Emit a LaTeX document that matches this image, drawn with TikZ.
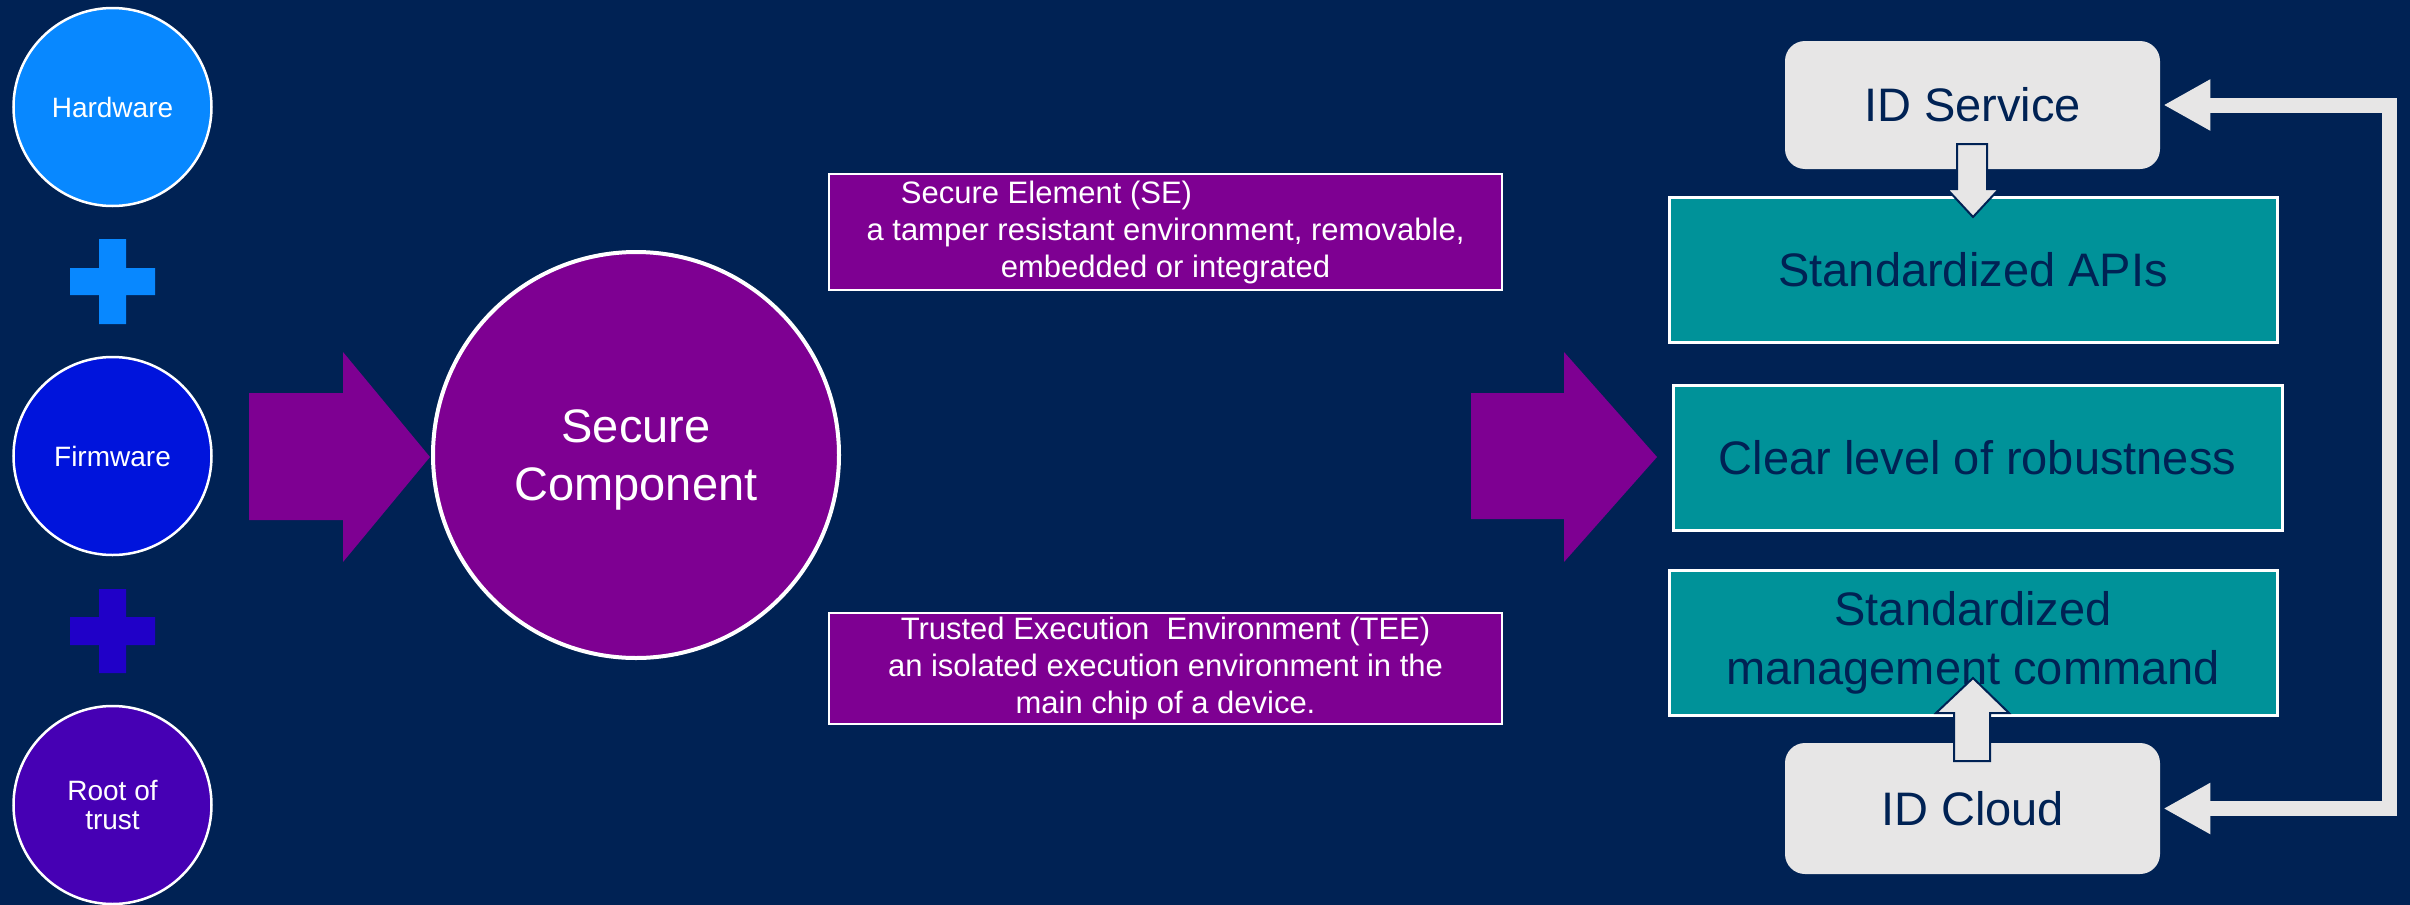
\documentclass[tikz,border=0pt]{standalone}
\usepackage{fontspec}
\setmainfont{Liberation Sans}
\usetikzlibrary{arrows.meta}
\definecolor{bg}{RGB}{0,34,84}
\definecolor{hwc}{RGB}{8,136,255}
\definecolor{fwc}{RGB}{0,20,220}
\definecolor{plustwo}{RGB}{32,0,200}
\definecolor{rotc}{RGB}{70,0,180}
\definecolor{purp}{RGB}{126,0,146}
\definecolor{tealc}{RGB}{0,146,153}
\definecolor{lgray}{RGB}{231,230,230}
\tikzset{
  circ/.style={circle, draw=white, line width=1.25pt, minimum size=99pt, inner sep=0pt,
    text=white, font=\fontsize{14}{14.5}\selectfont, align=center},
  desc/.style={rectangle, draw=white, line width=1pt, fill=purp, text=white, inner sep=0pt,
    minimum width=336.5pt, font=\fontsize{15.5}{18.5}\selectfont, align=center},
  tealbox/.style={rectangle, draw=white, line width=1.5pt, fill=tealc, text=bg,
    minimum width=304pt, minimum height=72.5pt, inner sep=0pt,
    font=\fontsize{23.5}{29.5}\selectfont, align=center},
  idbox/.style={rectangle, rounded corners=10pt, fill=lgray, text=bg, minimum width=187.5pt,
    inner sep=0pt, font=\fontsize{23.5}{29}\selectfont},
  blockarrow/.style={fill=purp},
  smallarrow/.style={fill=lgray, draw=bg, line width=1pt},
  loopconn/.style={draw=lgray, line width=7.5pt,
    arrows={Triangle[length=23.5pt,width=24pt]-Triangle[length=23.5pt,width=24pt]},
    shorten <=1.5pt, shorten >=1.5pt}
}
\begin{document}
\begin{tikzpicture}[x=0.5pt,y=-0.5pt]
\fill[bg] (0,0) rectangle (2410,905);
\useasboundingbox (0,0) rectangle (2410,905);

% left column
\node[circ, fill=hwc] (hw) at (112.5,107) {Hardware};
\node[circ, fill=fwc] (fw) at (112.5,456) {Firmware};
\node[circ, fill=rotc] (rot) at (112.5,805) {Root of\\trust};
\fill[hwc] (70,268) rectangle (155,295) (99,239) rectangle (126,324);
\fill[plustwo] (70,617) rectangle (155,645) (99,589) rectangle (126,673);

% block arrows
\fill[blockarrow] (249,393) -- (343,393) -- (343,352) -- (430,457) -- (343,562) -- (343,520) -- (249,520) -- cycle;
\fill[blockarrow] (1471,393) -- (1564,393) -- (1564,352) -- (1657,457) -- (1564,562) -- (1564,519) -- (1471,519) -- cycle;

% secure component
\node[circle, draw=white, line width=2pt, fill=purp, minimum size=203pt, inner sep=0pt,
  text=white, align=center, text depth=0pt, font=\fontsize{23.5}{29}\selectfont] (sc) at (636,455) {Secure\\Component};

% description boxes
\node[desc, minimum height=58pt] (se) at (1165.5,232)
  {Secure Element (SE)\hspace*{119pt}\\a tamper resistant environment, removable,\\embedded or integrated};
\node[desc, minimum height=55.5pt] (tee) at (1165.5,668.5)
  {Trusted Execution\ \ Environment (TEE)\\an isolated execution environment in the\\main chip of a device.};

% right column
\node[idbox, minimum height=64pt] (ids) at (1972.5,105) {ID Service};
\node[idbox, minimum height=65.5pt] (idc) at (1972.5,808.5) {ID Cloud};
\node[tealbox] (api) at (1973,269.5) {Standardized APIs};
\node[tealbox, minimum width=304.5pt] (rob) at (1977.5,457.5) {Clear level of robustness};
\node[tealbox] (mgmt) at (1973,642.5) {Standardized\\management command};

% small arrows
\draw[smallarrow] (1957,144) -- (1987,144) -- (1987,189) -- (1999,189) -- (1973,217) -- (1947,189) -- (1957,189) -- cycle;
\draw[smallarrow] (1954,761) -- (1990,761) -- (1990,713) -- (2009,713) -- (1973,678) -- (1936,713) -- (1954,713) -- cycle;

% loop connector
\coordinate (rt) at (2389.5,105);
\coordinate (rb) at (2389.5,808.5);
\draw[loopconn] (idc.east) -- (rb) -- (rt) -- (ids.east);
\end{tikzpicture}
\end{document}
